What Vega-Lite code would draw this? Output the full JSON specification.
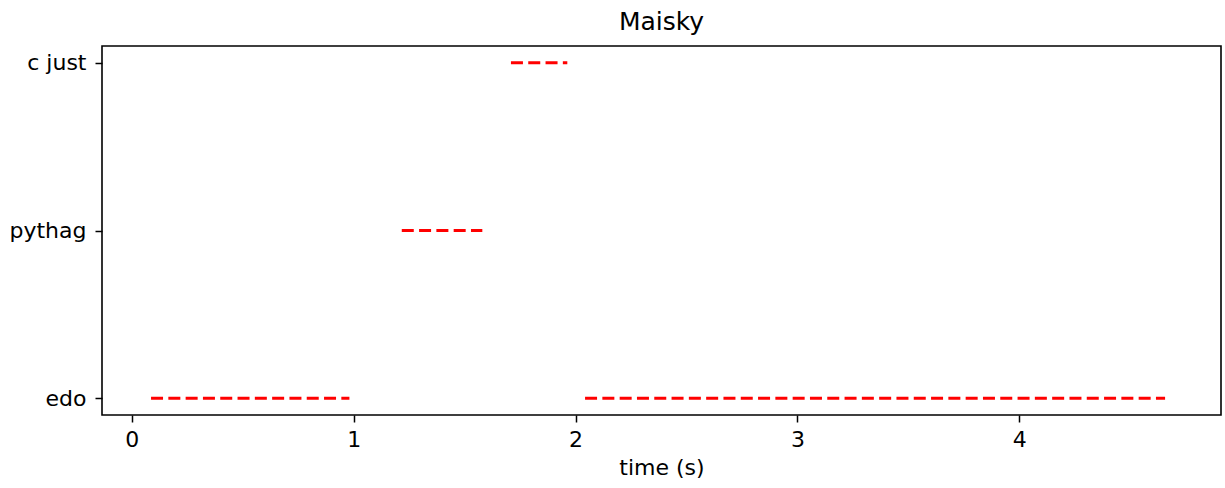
{
  "$schema": "https://vega.github.io/schema/vega-lite/v6.json",
  "autosize": {"type": "none"},
  "padding": {"left": 102, "top": 46, "right": 4, "bottom": 73},
  "width": 1119,
  "height": 369,
  "background": "white",
  "title": {
    "text": "Maisky",
    "font": "DejaVu Sans",
    "fontSize": 25,
    "fontWeight": "normal",
    "color": "black",
    "baseline": "alphabetic",
    "offset": -9
  },
  "data": {
    "values": [
      {"tuning": "edo", "start": 0.087, "end": 0.981},
      {"tuning": "pythag", "start": 1.217, "end": 1.580},
      {"tuning": "c just", "start": 1.709, "end": 1.963},
      {"tuning": "edo", "start": 2.043, "end": 4.657}
    ]
  },
  "mark": {"type": "rule", "color": "red", "strokeWidth": 3, "strokeDash": [12, 5.3], "strokeCap": "butt"},
  "encoding": {
    "x": {
      "field": "start",
      "type": "quantitative",
      "scale": {"domain": [-0.134, 4.909], "nice": false, "zero": false},
      "axis": {"title": "time (s)", "values": [0, 1, 2, 3, 4], "format": "d", "labelPadding": 7, "titlePadding": 7}
    },
    "x2": {"field": "end"},
    "y": {
      "field": "tuning",
      "type": "nominal",
      "scale": {"type": "point", "domain": ["c just", "pythag", "edo"], "padding": 0.1},
      "axis": {"title": null, "labelPadding": 9}
    }
  },
  "config": {
    "view": {"stroke": "black", "strokeWidth": 1.6},
    "axis": {
      "domain": false,
      "grid": false,
      "ticks": true,
      "tickColor": "black",
      "tickWidth": 1.5,
      "tickSize": 7,
      "labelFont": "DejaVu Sans",
      "labelFontSize": 22,
      "labelColor": "black",
      "titleFont": "DejaVu Sans",
      "titleFontSize": 22,
      "titleFontWeight": "normal",
      "titleColor": "black",
      "labelOverlap": false
    }
  }
}
